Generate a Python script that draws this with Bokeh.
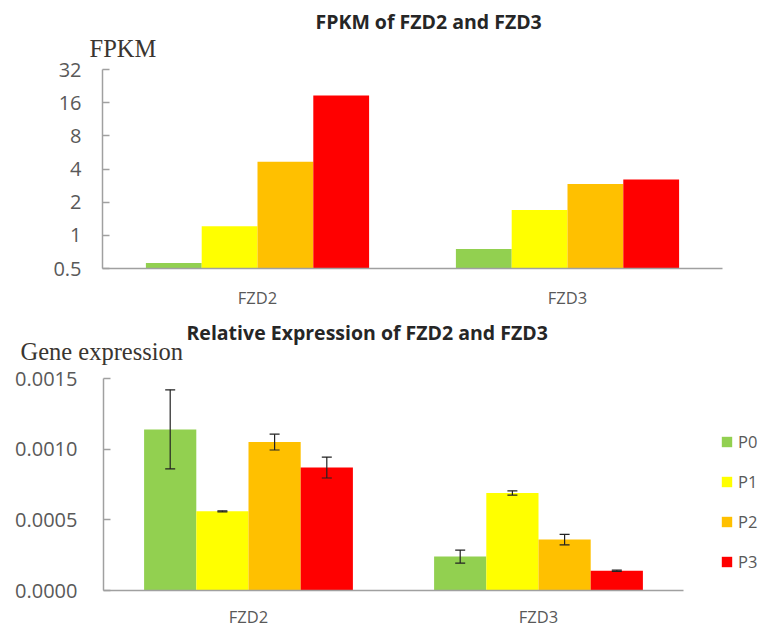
from bokeh.plotting import figure
from bokeh.layouts import column
from bokeh.models import (ColumnDataSource, Range1d, FixedTicker, CustomJSTickFormatter,
                          PrintfTickFormatter, Whisker, TeeHead, Title, Legend, LegendItem)
from bokeh.embed import file_html
from bokeh.resources import INLINE

# ---- data -------------------------------------------------------------
genes = ["FZD2", "FZD3"]
stages = ["P0", "P1", "P2", "P3"]
stage_colors = ["#92D050", "#FFFF00", "#FFC000", "#FF0000"]

# FPKM (log2 axis)
fpkm_p0 = [0.56, 0.75]
fpkm_p1 = [1.21, 1.70]
fpkm_p2 = [4.66, 2.92]
fpkm_p3 = [18.6, 3.22]
fpkm_ticks = [0.5, 1, 2, 4, 8, 16, 32]

# relative expression (mean, error)
rel_p0 = [0.00114, 0.00024]
rel_p1 = [0.00056, 0.00069]
rel_p2 = [0.00105, 0.00036]
rel_p3 = [0.00087, 0.00014]
err_p0 = [0.00028, 0.000046]
err_p1 = [0.000004, 0.000015]
err_p2 = [0.000056, 0.000037]
err_p3 = [0.000074, 0.000004]
rel_ticks = [0.0, 0.0005, 0.0010, 0.0015]

fpkm = [fpkm_p0, fpkm_p1, fpkm_p2, fpkm_p3]
rel = [rel_p0, rel_p1, rel_p2, rel_p3]
err = [err_p0, err_p1, err_p2, err_p3]

BAR_W = 0.18
OFFSETS = [-1.5 * BAR_W, -0.5 * BAR_W, 0.5 * BAR_W, 1.5 * BAR_W]
gene_pos = [i + 0.5 for i in range(len(genes))]

LABEL_FONT = "Open Sans"
LABEL_COLOR = "#595959"
AXIS_COLOR = "#a0a0a0"
TITLE_COLOR = "#262626"
SERIF_COLOR = "#3a3530"


def style_axes(p, y_standoff, x_standoff):
    for ax in (p.xaxis[0], p.yaxis[0]):
        ax.axis_line_color = AXIS_COLOR
        ax.axis_line_width = 1.5
        ax.major_label_text_font = LABEL_FONT
        ax.major_label_text_color = LABEL_COLOR
        ax.minor_tick_line_color = None
    xa, ya = p.xaxis[0], p.yaxis[0]
    xa.major_label_text_font_size = "16.5px"
    xa.major_tick_line_color = None
    xa.major_tick_in = 0
    xa.major_tick_out = 0
    xa.ticker = FixedTicker(ticks=gene_pos)
    xa.formatter = CustomJSTickFormatter(args=dict(names=genes),
                                         code="return names[Math.round(tick - 0.5)]")
    xa.bounds = (0, len(genes))
    xa.major_label_standoff = x_standoff
    ya.major_label_text_font_size = "20px"
    ya.major_tick_line_color = AXIS_COLOR
    ya.major_tick_line_width = 1.5
    ya.major_tick_in = 7
    ya.major_tick_out = 0
    ya.major_label_standoff = y_standoff
    p.grid.visible = False
    p.outline_line_color = None


def add_titles(p, caption, caption_offset, caption_standoff,
               title, title_offset, title_standoff):
    # caption sits right above the frame, the chart title stacked above it
    p.add_layout(Title(text=caption, align="left", offset=caption_offset,
                       standoff=caption_standoff,
                       text_font="Liberation Serif", text_font_size="24.5px",
                       text_font_style="normal", text_color=SERIF_COLOR), "above")
    p.add_layout(Title(text=title, align="left", offset=title_offset,
                       standoff=title_standoff,
                       text_font=LABEL_FONT, text_font_size="19.5px",
                       text_font_style="bold", text_color=TITLE_COLOR), "above")


# ---- top: FPKM on a log2 axis --------------------------------------------
top = figure(width=761, height=311, y_axis_type="log", title=None,
             x_range=Range1d(0, 2), y_range=Range1d(0.5, 32),
             toolbar_location=None, output_backend="svg", frame_align=False,
             min_border_left=102, min_border_right=39,
             min_border_top=69, min_border_bottom=0)
for k in range(len(stages)):
    src = ColumnDataSource(dict(x=[g + OFFSETS[k] for g in gene_pos],
                                top=fpkm[k], bottom=[fpkm_ticks[0]] * len(genes)))
    top.vbar(x="x", top="top", bottom="bottom", width=BAR_W, source=src,
             fill_color=stage_colors[k], line_color=None)
style_axes(top, y_standoff=21, x_standoff=17)
top.yaxis[0].ticker = FixedTicker(ticks=fpkm_ticks)
top.yaxis[0].formatter = CustomJSTickFormatter(code="return tick.toString()")
add_titles(top, "FPKM", -13, 16, "FPKM of FZD2 and FZD3", 213, -20)

# ---- bottom: relative expression with error bars -------------------------
bot = figure(width=761, height=319, title=None,
             x_range=Range1d(0, 658 / 290), y_range=Range1d(0, 0.0015),
             toolbar_location=None, output_backend="svg", frame_align=False,
             min_border_left=103, min_border_right=0,
             min_border_top=67, min_border_bottom=0)
items = []
for k in range(len(stages)):
    src = ColumnDataSource(dict(x=[g + OFFSETS[k] for g in gene_pos],
                                top=rel[k],
                                upper=[m + e for m, e in zip(rel[k], err[k])],
                                lower=[m - e for m, e in zip(rel[k], err[k])]))
    r = bot.vbar(x="x", top="top", bottom=0, width=BAR_W, source=src,
                 fill_color=stage_colors[k], line_color=None)
    bot.add_layout(Whisker(base="x", upper="upper", lower="lower", source=src,
                           level="overlay", line_color="#222222", line_width=1.2,
                           upper_head=TeeHead(size=10, line_color="#222222", line_width=1.2),
                           lower_head=TeeHead(size=10, line_color="#222222", line_width=1.2)))
    items.append(LegendItem(label=stages[k], renderers=[r]))
style_axes(bot, y_standoff=26, x_standoff=14)
bot.yaxis[0].ticker = FixedTicker(ticks=rel_ticks)
bot.yaxis[0].formatter = PrintfTickFormatter(format="%.4f")
add_titles(bot, "Gene expression", -83, 28,
           "Relative Expression of FZD2 and FZD3", 83, -48)

legend = Legend(items=items, location=(617, 17), orientation="vertical",
                glyph_width=13, glyph_height=13, label_standoff=5,
                label_height=20, spacing=17,
                padding=0, margin=0, border_line_color=None,
                background_fill_alpha=0,
                label_text_font=LABEL_FONT, label_text_font_size="16.5px",
                label_text_color=LABEL_COLOR)
bot.add_layout(legend)

layout = column(top, bot, spacing=0)
open("out.html", "w").write(file_html(layout, INLINE))
